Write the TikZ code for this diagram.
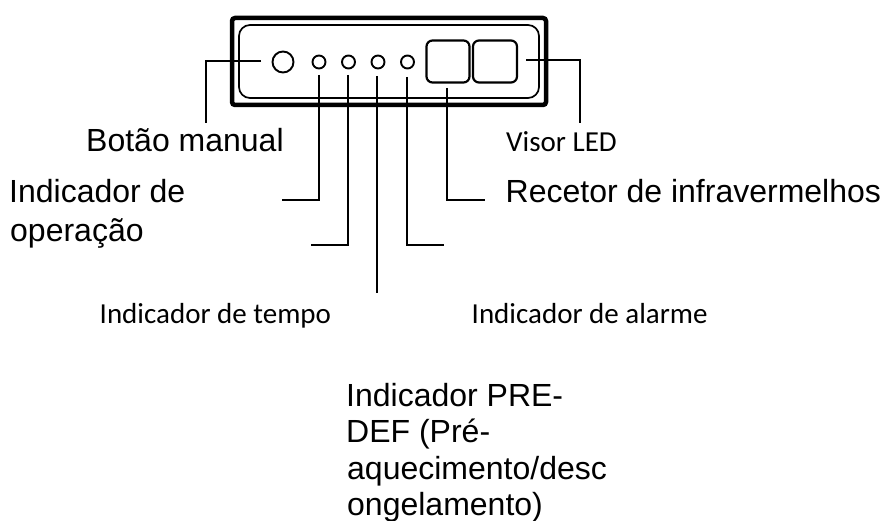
\documentclass[tikz,border=0pt]{standalone}
\usepackage{fontspec}
\setmainfont{Liberation Sans}
\newfontfamily\carlito{Carlito}
\usetikzlibrary{calc}

\begin{document}
\begin{tikzpicture}[x=1pt, y=-1pt]

    \tikzstyle{bigtext}=[anchor=base west, inner sep=0pt, font=\fontsize{32}{36}\selectfont];
    \tikzstyle{smalltext}=[anchor=base west, inner sep=0pt, font=\carlito\fontsize{29}{34}\selectfont];
    \tikzstyle{lamp}=[circle, draw=black, line width=1.9pt, inner sep=0pt, minimum size=13pt];
    \tikzstyle{lead}=[draw=black, line width=1.9pt];

    \useasboundingbox (0,0) rectangle (885,521);

    % casing
    \draw[line width=4.5pt, rounded corners=3pt] (232,18) rectangle (546,105);
    \draw[line width=1.7pt, rounded corners=11pt] (239,25) rectangle (539,98);

    \node[lamp, minimum size=21pt] (button) at (283,62) {};
    \node[lamp] (op) at (319,62) {};
    \node[lamp] (time) at ($(op)+(29.5,0)$) {};
    \node[lamp] (predef) at ($(time)+(29.5,0)$) {};
    \node[lamp] (alarm) at ($(predef)+(29.5,0)$) {};

    \node[draw=black, line width=2.2pt, rounded corners=6pt, minimum width=43pt, minimum height=42pt, inner sep=0pt] (ir) at (448,61.5) {};
    \node[draw=black, line width=2.2pt, rounded corners=6pt, minimum width=44pt, minimum height=42pt, inner sep=0pt] (led) at (495,61.5) {};

    % ends of the leaders
    \coordinate (button1) at (261,61);
    \coordinate (button2) at (206,123);
    \coordinate (led1) at (526,60);
    \coordinate (led2) at (580,123);
    \coordinate (op1) at (319,75);
    \coordinate (op2) at (282,200);
    \coordinate (time1) at (348,75);
    \coordinate (time2) at (311,245);
    \coordinate (predef1) at (377,76);
    \coordinate (predef2) at (377,293);
    \coordinate (alarm1) at (407,77);
    \coordinate (alarm2) at (444,245);
    \coordinate (ir1) at (447,88);
    \coordinate (ir2) at (485,200);

    \draw[lead] (button1) -| (button2);
    \draw[lead] (led1) -| (led2);
    \draw[lead] (op1) |- (op2);
    \draw[lead] (time1) |- (time2);
    \draw[lead] (predef1) -- (predef2);
    \draw[lead] (alarm1) |- (alarm2);
    \draw[lead] (ir1) |- (ir2);

    \node[bigtext] (t0) at (86,152) {Botão manual};
    \node[smalltext] (t1) at (506,152) {Visor LED};
    \node[bigtext] (t2) at (9,203) {Indicador de};
    \node[bigtext] (t3) at (10,241) {operação};
    \node[bigtext] (t4) at (505.5,203) {Recetor de infravermelhos};
    \node[smalltext] (t5) at (99.5,323) {Indicador de tempo};
    \node[smalltext] (t6) at (471.5,323) {Indicador de alarme};
    \node[bigtext] (t7) at (346,406) {Indicador PRE-};
    \node[bigtext] (t8) at (346,442) {DEF (Pré-};
    \node[bigtext] (t9) at (347,479) {aquecimento/desc};
    \node[bigtext] (t10) at (347,515) {ongelamento)};

\end{tikzpicture}
\end{document}
